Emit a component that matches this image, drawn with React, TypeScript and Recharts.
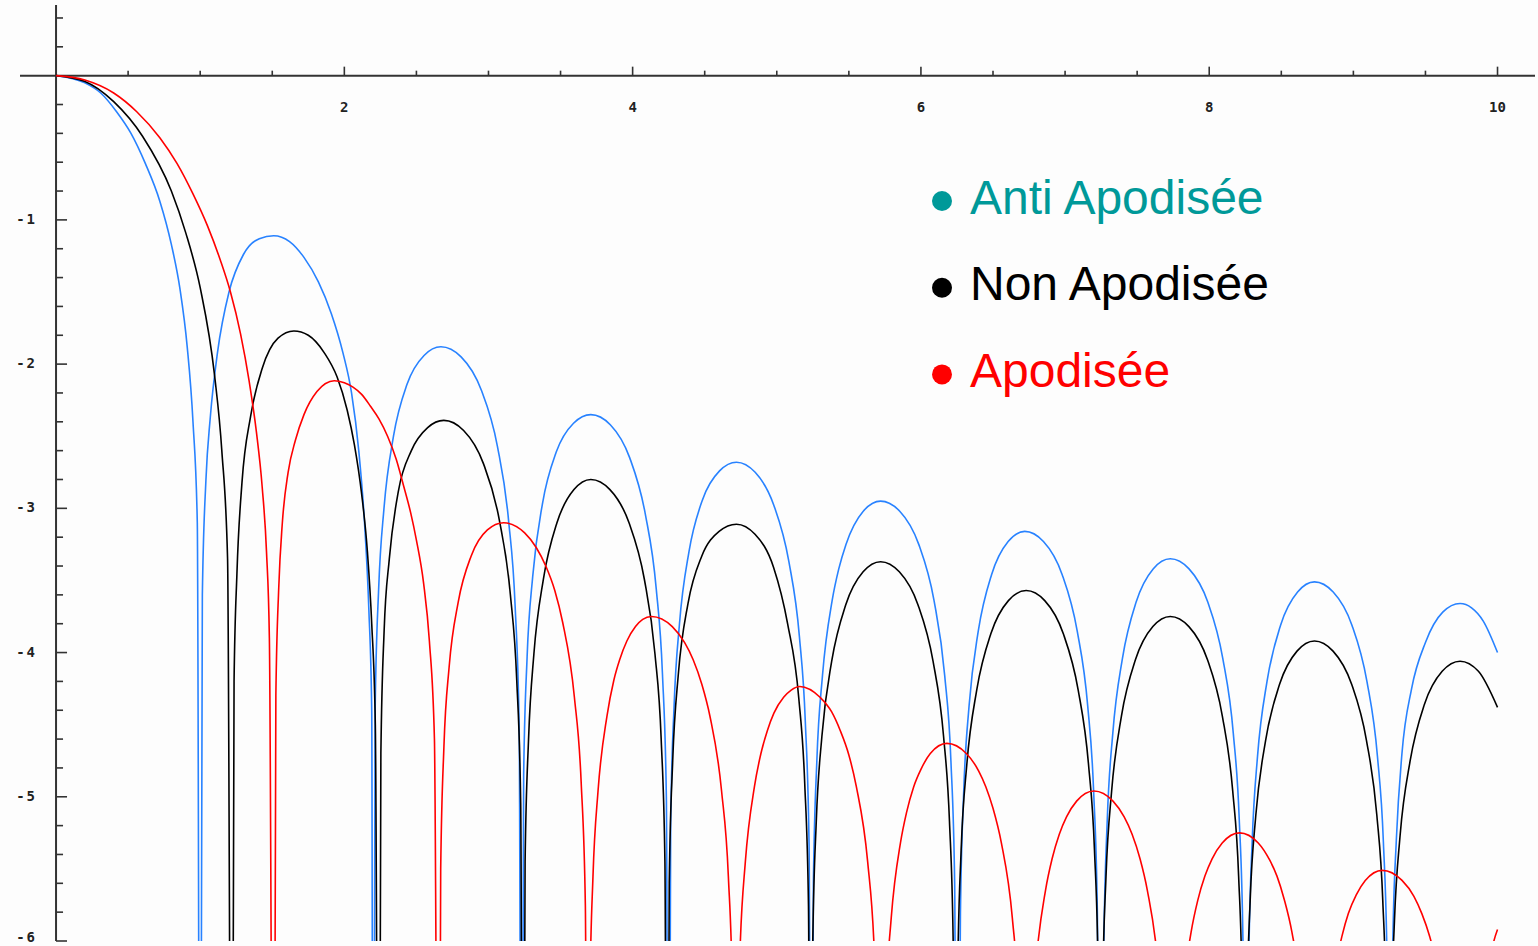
import { LineChart, Line, XAxis, YAxis, ReferenceLine, ReferenceDot } from 'recharts';

type Pt = [number, number];

// log10 intensity; the dips fall below the -6 floor and are clipped
const antiApodisee: Pt[] = [
  [0, 0], [0.2, -0.05], [0.31, -0.12], [0.42, -0.25], [0.52, -0.4], [0.62, -0.61], [0.72, -0.87],
  [0.8, -1.17], [0.86, -1.48], [0.91, -1.88], [0.95, -2.4], [0.98, -3.1], [1.0, -9],
  [1.015, -3.6], [1.04, -2.8], [1.07, -2.37], [1.12, -1.92], [1.2, -1.5], [1.3, -1.24], [1.41, -1.13],
  [1.51, -1.11], [1.62, -1.15], [1.72, -1.26], [1.82, -1.43], [1.91, -1.65], [1.99, -1.92], [2.05, -2.2],
  [2.1, -2.6], [2.14, -3.1], [2.17, -3.7], [2.19, -4.4], [2.2, -9],
  [2.214, -4.38], [2.238, -3.56], [2.275, -3.0], [2.341, -2.5], [2.435, -2.14], [2.553, -1.94], [2.67, -1.88],
  [2.81, -1.95], [2.95, -2.18], [3.062, -2.57], [3.14, -3.09], [3.185, -3.68], [3.213, -4.53], [3.23, -9],
  [3.244, -4.85], [3.268, -4.03], [3.307, -3.47], [3.374, -2.97], [3.47, -2.61], [3.59, -2.41], [3.71, -2.35],
  [3.845, -2.42], [3.98, -2.65], [4.088, -3.04], [4.164, -3.56], [4.207, -4.15], [4.234, -5.0], [4.25, -9],
  [4.264, -5.18], [4.288, -4.36], [4.325, -3.8], [4.391, -3.3], [4.485, -2.94], [4.603, -2.74], [4.72, -2.68],
  [4.85, -2.75], [4.98, -2.98], [5.084, -3.37], [5.157, -3.89], [5.198, -4.48], [5.224, -5.33], [5.24, -9],
  [5.254, -5.6], [5.278, -4.75], [5.317, -4.16], [5.384, -3.64], [5.43, -3.42], [5.48, -3.25], [5.6, -3.02],
  [5.72, -2.95], [5.853, -3.02], [5.985, -3.25], [6.091, -3.64], [6.165, -4.16], [6.208, -4.75], [6.234, -5.6],
  [6.25, -9],
  [6.274, -5.81], [6.297, -4.96], [6.334, -4.37], [6.398, -3.85], [6.49, -3.46], [6.605, -3.23], [6.72, -3.16],
  [6.85, -3.23], [6.98, -3.46], [7.084, -3.85], [7.157, -4.37], [7.198, -4.96], [7.224, -5.81], [7.24, -9],
  [7.269, -6.0], [7.293, -5.15], [7.331, -4.56], [7.398, -4.04], [7.493, -3.65], [7.611, -3.42], [7.73, -3.35],
  [7.86, -3.42], [7.99, -3.65], [8.094, -4.04], [8.167, -4.56], [8.208, -5.15], [8.234, -6.0], [8.25, -9],
  [8.274, -6.16], [8.298, -5.31], [8.335, -4.72], [8.401, -4.2], [8.495, -3.81], [8.613, -3.58], [8.73, -3.51],
  [8.86, -3.58], [8.99, -3.81], [9.094, -4.2], [9.167, -4.72], [9.208, -5.31], [9.234, -6.16], [9.25, -9],
  [9.274, -6.0], [9.298, -5.3], [9.337, -4.7], [9.404, -4.25], [9.5, -3.93], [9.62, -3.72], [9.74, -3.66],
  [9.82, -3.69], [9.9, -3.78], [10.0, -4.0],
];

const nonApodisee: Pt[] = [
  [0, 0], [0.2, -0.04], [0.4, -0.18], [0.6, -0.42], [0.8, -0.8], [0.9, -1.09], [1.0, -1.47], [1.1, -2.08],
  [1.15, -2.6], [1.19, -3.35], [1.22, -9],
  [1.235, -4.2], [1.255, -3.45], [1.29, -2.82], [1.35, -2.36], [1.43, -2.03], [1.54, -1.82], [1.65, -1.77],
  [1.75, -1.8], [1.86, -1.92], [1.95, -2.09], [2.02, -2.32], [2.07, -2.56], [2.12, -2.9], [2.16, -3.3],
  [2.19, -3.8], [2.215, -4.5], [2.24, -9],
  [2.2535, -4.7], [2.276, -3.85], [2.312, -3.35], [2.375, -2.88], [2.465, -2.6], [2.578, -2.44], [2.69, -2.39],
  [2.8275, -2.46], [2.965, -2.69], [3.075, -3.08], [3.152, -3.6], [3.196, -4.19], [3.2235, -5.04], [3.24, -9],
  [3.254, -5.45], [3.278, -4.6], [3.315, -4.01], [3.381, -3.49], [3.475, -3.1], [3.593, -2.87], [3.71, -2.8],
  [3.8425, -2.87], [3.975, -3.1], [4.081, -3.49], [4.155, -4.01], [4.198, -4.6], [4.224, -5.45], [4.24, -9],
  [4.254, -5.6], [4.278, -4.75], [4.317, -4.15], [4.384, -3.66], [4.48, -3.33], [4.6, -3.16], [4.72, -3.11],
  [4.849, -3.18], [4.978, -3.41], [5.075, -3.8], [5.153, -4.32], [5.194, -4.91], [5.22, -5.76], [5.235, -9],
  [5.2495, -6.02], [5.274, -5.17], [5.313, -4.58], [5.381, -4.06], [5.478, -3.67], [5.599, -3.44], [5.72, -3.37],
  [5.85, -3.44], [5.98, -3.67], [6.084, -4.06], [6.157, -4.58], [6.198, -5.17], [6.224, -6.02], [6.24, -9],
  [6.255, -6.22], [6.279, -5.37], [6.318, -4.78], [6.387, -4.26], [6.485, -3.87], [6.607, -3.64], [6.73, -3.57],
  [6.859, -3.64], [6.988, -3.87], [7.091, -4.26], [7.163, -4.78], [7.204, -5.37], [7.2295, -6.22], [7.245, -9],
  [7.2596, -6.4], [7.284, -5.55], [7.323, -4.96], [7.391, -4.44], [7.488, -4.05], [7.609, -3.82], [7.73, -3.75],
  [7.859, -3.82], [7.988, -4.05], [8.091, -4.44], [8.163, -4.96], [8.204, -5.55], [8.2296, -6.4], [8.245, -9],
  [8.2596, -6.57], [8.284, -5.72], [8.323, -5.13], [8.391, -4.61], [8.488, -4.22], [8.609, -3.99], [8.73, -3.92],
  [8.859, -3.99], [8.988, -4.22], [9.091, -4.61], [9.163, -5.13], [9.204, -5.72], [9.2296, -6.57], [9.245, -9],
  [9.26, -6.71], [9.285, -5.86], [9.324, -5.27], [9.394, -4.75], [9.4925, -4.36], [9.616, -4.13], [9.74, -4.06],
  [9.8675, -4.13], [10.0, -4.38],
];

const apodisee: Pt[] = [
  [0, 0], [0.2, -0.03], [0.4, -0.12], [0.56, -0.25], [0.72, -0.43], [0.84, -0.61], [0.95, -0.82],
  [1.05, -1.04], [1.14, -1.28], [1.21, -1.5], [1.28, -1.79], [1.34, -2.12], [1.39, -2.47], [1.43, -2.85],
  [1.46, -3.3], [1.48, -3.9], [1.51, -9],
  [1.525, -4.3], [1.545, -3.55], [1.57, -3.1], [1.61, -2.75], [1.66, -2.53], [1.72, -2.35], [1.81, -2.19],
  [1.93, -2.115], [2.0, -2.13], [2.06, -2.16], [2.12, -2.21], [2.18, -2.29], [2.24, -2.38], [2.3, -2.5],
  [2.36, -2.66], [2.41, -2.84], [2.46, -3.03], [2.5, -3.22], [2.55, -3.52], [2.59, -3.92], [2.625, -4.6],
  [2.655, -9],
  [2.6685, -5.5], [2.691, -4.65], [2.727, -4.1], [2.79, -3.65], [2.88, -3.33], [2.9925, -3.15], [3.105, -3.1],
  [3.251, -3.17], [3.33, -3.27], [3.3975, -3.4], [3.46, -3.57], [3.5145, -3.79], [3.596, -4.31], [3.643, -4.9],
  [3.672, -5.75], [3.69, -9],
  [3.703, -6.4], [3.725, -5.55], [3.76, -4.96], [3.822, -4.44], [3.87, -4.19], [3.91, -4.05], [3.96, -3.92],
  [4.02, -3.82], [4.07, -3.77], [4.13, -3.75],
  [4.275, -3.82], [4.36, -3.93], [4.42, -4.05], [4.48, -4.22], [4.536, -4.44], [4.617, -4.96], [4.664, -5.55],
  [4.693, -6.4], [4.71, -9],
  [4.7235, -6.89], [4.746, -6.04], [4.782, -5.45], [4.845, -4.93], [4.89, -4.7], [4.935, -4.54], [4.98, -4.42],
  [5.0475, -4.31], [5.1, -4.26], [5.16, -4.235],
  [5.3, -4.31], [5.38, -4.41], [5.44, -4.54], [5.5, -4.71], [5.552, -4.93], [5.6304, -5.45], [5.675, -6.04],
  [5.703, -6.89], [5.72, -9],
  [5.734, -7.28], [5.757, -6.43], [5.794, -5.84], [5.858, -5.32], [5.9, -5.11], [5.95, -4.93], [6.0, -4.81],
  [6.065, -4.7], [6.18, -4.63],
  [6.315, -4.7], [6.4, -4.82], [6.45, -4.93], [6.5, -5.08], [6.558, -5.32], [6.634, -5.84], [6.677, -6.43],
  [6.704, -7.28], [6.72, -9],
  [6.734, -7.61], [6.758, -6.76], [6.797, -6.17], [6.864, -5.65], [6.91, -5.43], [6.96, -5.26], [7.01, -5.14],
  [7.08, -5.03], [7.2, -4.96],
  [7.3325, -5.03], [7.41, -5.14], [7.465, -5.26], [7.52, -5.43], [7.571, -5.65], [7.6452, -6.17], [7.6876, -6.76],
  [7.714, -7.61], [7.73, -9],
  [7.7444, -7.9], [7.768, -7.05], [7.807, -6.46], [7.874, -5.94], [7.92, -5.72], [7.97, -5.55], [8.02, -5.43],
  [8.09, -5.32], [8.21, -5.25],
  [8.34, -5.32], [8.42, -5.44], [8.47, -5.55], [8.52, -5.71], [8.574, -5.94], [8.6468, -6.46], [8.688, -7.05],
  [8.714, -7.9], [8.73, -9],
  [8.744, -8.16], [8.768, -7.31], [8.805, -6.72], [8.871, -6.2], [8.92, -5.97], [8.965, -5.81], [9.02, -5.68],
  [9.0825, -5.58], [9.2, -5.51],
  [9.3375, -5.58], [9.42, -5.69], [9.475, -5.81], [9.53, -5.97], [9.585, -6.2], [9.662, -6.72], [9.706, -7.31],
  [9.7335, -8.16], [9.75, -9],
  [9.97, -6.02], [10.0, -5.92],
];

const xLabelTicks = [2, 4, 6, 8, 10];
const xMinorTicks = [0.5, 1, 1.5, 2.5, 3, 3.5, 4.5, 5, 5.5, 6.5, 7, 7.5, 8.5, 9, 9.5];
const yLabelTicks = [-1, -2, -3, -4, -5, -6];
const yMinorTicks = [
  0.4, 0.2, -0.2, -0.4, -0.6, -0.8, -1.2, -1.4, -1.6, -1.8, -2.2, -2.4, -2.6, -2.8,
  -3.2, -3.4, -3.6, -3.8, -4.2, -4.4, -4.6, -4.8, -5.2, -5.4, -5.6, -5.8,
];

const legendLabels = ['Anti Apodisée', 'Non Apodisée', 'Apodisée'];
const legendColors = ['#009999', '#000000', '#ff0000'];

const AXIS = '#333';
const TICK_FONT = '"DejaVu Sans Mono", monospace';

const toPoints = (pts: Pt[]) => pts.map(([x, y]) => ({ x, y }));

const xTick = (len: number) => (p: any) => (
  <line x1={p.cx} y1={p.cy} x2={p.cx} y2={p.cy - len} stroke={AXIS} strokeWidth={1.6} />
);
const yTick = (len: number) => (p: any) => (
  <line x1={p.cx} y1={p.cy} x2={p.cx + len} y2={p.cy} stroke={AXIS} strokeWidth={1.6} />
);
const xLabel = (t: number) => (p: any) => (
  <text x={p.cx} y={p.cy + 32} textAnchor="middle" dominantBaseline="middle" fontFamily={TICK_FONT} fontSize={14} fontWeight="bold" fill="#222">
    {t}
  </text>
);
const yLabel = (t: number) => (p: any) => (
  <text x={p.cx - 19} y={Math.min(p.cy, 938)} textAnchor="end" dominantBaseline="middle" fontFamily={TICK_FONT} fontSize={14} fontWeight="bold" fill="#222" letterSpacing={2}>
    {t}
  </text>
);

export default function App() {
  return (
    <div style={{ position: 'relative', width: 1538, height: 946, background: '#fdfdfd' }}>
      <style>{'body{margin:0}'}</style>
      <LineChart width={1538} height={946} margin={{ top: 5, right: 3, bottom: 5, left: 20 }}>
        <XAxis type="number" dataKey="x" domain={[-0.25, 10.26]} allowDataOverflow hide />
        <YAxis type="number" domain={[-6, 0.49]} allowDataOverflow hide />

        <ReferenceLine y={0} stroke={AXIS} strokeWidth={2} ifOverflow="visible" />
        <ReferenceLine x={0} stroke={AXIS} strokeWidth={2} ifOverflow="visible" />
        {xMinorTicks.map((t) => (
          <ReferenceDot key={`xm${t}`} x={t} y={0} r={0} shape={xTick(5)} ifOverflow="visible" />
        ))}
        {xLabelTicks.map((t) => (
          <ReferenceDot key={`xM${t}`} x={t} y={0} r={0} shape={xTick(9)} ifOverflow="visible" />
        ))}
        {xLabelTicks.map((t) => (
          <ReferenceDot key={`xl${t}`} x={t} y={0} r={0} shape={xLabel(t)} ifOverflow="visible" />
        ))}
        {yMinorTicks.map((t) => (
          <ReferenceDot key={`ym${t}`} x={0} y={t} r={0} shape={yTick(7)} ifOverflow="visible" />
        ))}
        {yLabelTicks.map((t) => (
          <ReferenceDot key={`yM${t}`} x={0} y={t} r={0} shape={yTick(11)} ifOverflow="visible" />
        ))}
        {yLabelTicks.map((t) => (
          <ReferenceDot key={`yl${t}`} x={0} y={t} r={0} shape={yLabel(t)} ifOverflow="visible" />
        ))}

        <Line data={toPoints(antiApodisee)} dataKey="y" type="monotone" stroke="#2882ff" strokeWidth={1.6} dot={false} isAnimationActive={false} />
        <Line data={toPoints(nonApodisee)} dataKey="y" type="monotone" stroke="#000000" strokeWidth={1.6} dot={false} isAnimationActive={false} />
        <Line data={toPoints(apodisee)} dataKey="y" type="monotone" stroke="#ff0000" strokeWidth={1.6} dot={false} isAnimationActive={false} />
      </LineChart>

      <svg width={1538} height={946} style={{ position: 'absolute', left: 0, top: 0, pointerEvents: 'none' }}>
        {legendLabels.map((label, i) => (
          <g key={label}>
            <circle cx={942} cy={201 + i * 86.7} r={10} fill={legendColors[i]} />
            <text x={970} y={213.5 + i * 86.7} fontFamily='"Liberation Sans", Arial, sans-serif' fontSize={48} fill={legendColors[i]}>
              {label}
            </text>
          </g>
        ))}
      </svg>
    </div>
  );
}
